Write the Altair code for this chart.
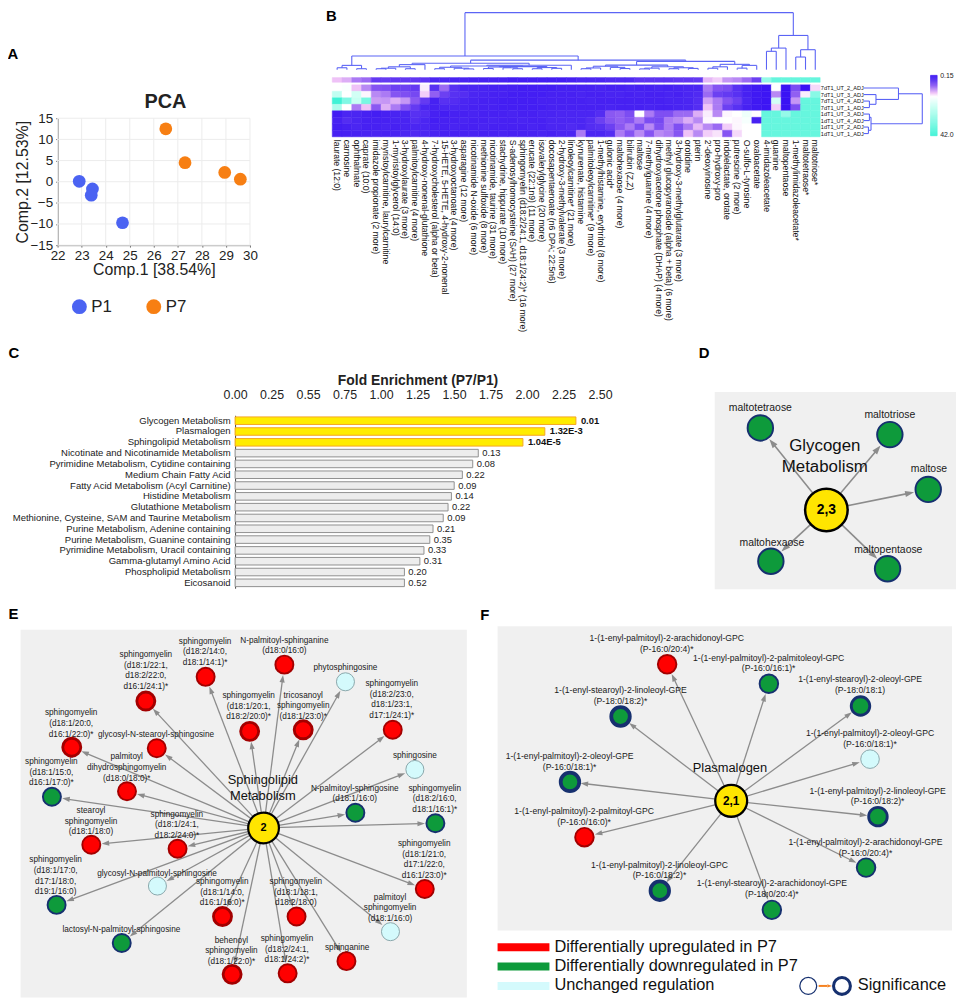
import math
import altair as alt
import pandas as pd

W, H = 956, 990
FONT = "Liberation Sans"

# ======================= DATA =======================
# ---- A: PCA scores ----
pca_group = ["P1", "P1", "P1", "P1", "P7", "P7", "P7", "P7"]
pca_comp1 = [22.9, 23.45, 23.4, 24.7, 26.5, 27.3, 28.95, 29.6]
pca_comp2 = [0.1, -1.7, -3.2, -9.7, 12.5, 4.5, 2.2, 0.6]
pca_xticks = [22, 23, 24, 25, 26, 27, 28, 29, 30]
pca_yticks = [-15, -10, -5, 0, 5, 10, 15]

# ---- B: heatmap ----
metabolites = [
    "laurate (12:0)", "carnosine", "ophthalmate", "caprate (10:0)",
    "imidazole propionate (2 more)", "myristoylcarnitine, laurylcarnitine",
    "1-myristoylglycerol (14:0)", "3-hydroxylaurate (3 more)",
    "palmitoylcarnitine (4 more)", "4-hydroxy-nonenal-glutathione",
    "7-hydroxycholesterol (alpha or beta)", "15-HETE, 5-HETE, 4-hydroxy-2-nonenal",
    "3-hydroxyoctanoate (4 more)", "asparagine (12 more)",
    "nicotinamide N-oxide (6 more)", "methionine sulfoxide (8 more)",
    "nicotinamide, taurine (31 more)", "stachydrine, hippurate (10 more)",
    "S-adenosylhomocysteine (SAH) (27 more)",
    "sphingomyelin (d18:2/24:1, d18:1/24:2)* (16 more)",
    "erucate (22:1n9) (11 more)", "isovalerylglycine (20 more)",
    "docosapentaenoate (n6 DPA; 22:5n6)", "2-hydroxy-3-methylvalerate (3 more)",
    "linoleoylcarnitine* (21 more)", "kynurenate, histamine",
    "palmitoleoylcarnitine* (9 more)", "1-methylhistamine, erythritol (8 more)",
    "gulonic acid*", "maltohexaose (4 more)", "bilirubin (Z,Z)", "maltose",
    "7-methylguanine (4 more)", "dihydroxyacetone phosphate (DHAP) (4 more)",
    "methyl glucopyranoside (alpha + beta) (6 more)",
    "3-hydroxy-3-methylglutarate (3 more)", "orotidine", "pterin",
    "2'-deoxyinosine", "pro-hydroxy-pro", "indolelactate, orotate",
    "putrescine (2 more)", "O-sulfo-L-tyrosine", "oxaloacetate",
    "4-imidazoleacetate", "guanine", "maltopentaose",
    "1-methylimidazoleacetate*", "maltotetraose*", "maltotriose*",
]
samples = ["7dT1_UT_2_ADJ", "7dT1_UT_3_ADJ", "7dT1_UT_4_ADJ", "7dT1_UT_1_ADJ",
           "1dT1_UT_3_ADJ", "1dT1_UT_4_ADJ", "1dT1_UT_2_ADJ", "1dT1_UT_1_ADJ"]
hm_annotation = [0.8, 0.7, 0.5, 0.45, 0.28, 0.28, 0.27, 0.27, 0.27, 0.26,
                 0.22, 0.22, 0.21, 0.21, 0.2, 0.2, 0.2, 0.2, 0.19, 0.19,
                 0.19, 0.19, 0.19, 0.19, 0.2, 0.22, 0.22, 0.22, 0.23, 0.23,
                 0.23, 0.26, 0.26, 0.26, 0.26, 0.27, 0.27, 0.28, 0.75, 0.85,
                 0.6, 0.55, 0.45, 0.3, 8, 20, 20, 20, 20, 20]
hm_7d_2 = [1.1, 1.2, 0.8, 0.55, 0.38, 0.36, 0.3, 0.3, 0.28, 1.0,
           0.25, 0.45, 0.25, 0.22, 0.22, 0.21, 0.2, 0.2, 0.2, 0.19,
           0.19, 0.19, 0.19, 0.2, 0.2, 0.2, 0.2, 0.21, 0.2, 0.2,
           0.21, 0.2, 0.2, 0.21, 0.2, 0.21, 0.22, 0.22, 0.5, 0.38,
           0.35, 0.25, 0.2, 0.17, 0.16, 1.1, 0.15, 0.35, 0.15, 0.9]
hm_7d_3 = [3.5, 1.1, 2.5, 1.05, 0.55, 0.5, 0.38, 0.36, 0.33, 0.85,
           0.42, 0.3, 0.25, 0.24, 0.22, 0.21, 0.2, 0.2, 0.19, 0.19,
           0.19, 0.19, 0.2, 0.2, 0.2, 0.21, 0.2, 0.2, 0.21, 0.21,
           0.2, 0.21, 0.2, 0.2, 0.21, 0.2, 0.22, 0.23, 0.45, 0.3,
           0.28, 0.25, 0.2, 0.17, 0.16, 0.55, 0.15, 0.42, 1.0, 10]
hm_7d_4 = [42, 12, 3, 14, 0.62, 0.6, 0.7, 0.6, 0.4, 0.28,
           0.2, 0.25, 0.24, 0.22, 0.21, 0.2, 0.2, 0.19, 0.19, 0.19,
           0.19, 0.2, 0.2, 0.2, 0.2, 0.2, 0.21, 0.2, 0.2, 0.2,
           0.2, 0.2, 0.2, 0.2, 0.21, 0.21, 0.22, 0.24, 0.65, 0.5,
           0.38, 0.3, 0.22, 0.17, 0.16, 2.5, 0.15, 0.6, 20, 20]
hm_7d_1 = [5, 1.1, 0.5, 0.8, 0.4, 0.7, 0.5, 0.36, 0.28, 0.22,
           0.2, 0.22, 0.22, 0.21, 0.2, 0.2, 0.2, 0.19, 0.19, 0.19,
           0.19, 0.19, 0.2, 0.2, 0.2, 0.2, 0.2, 0.2, 0.21, 0.2,
           0.2, 0.2, 0.21, 0.2, 0.2, 0.21, 0.22, 0.24, 0.8, 0.5,
           0.3, 0.25, 0.2, 0.17, 0.16, 0.85, 0.15, 0.35, 20, 20]
hm_1d_3 = [0.18, 0.22, 0.22, 0.2, 0.19, 0.2, 0.21, 0.22, 0.25, 0.24,
           0.2, 0.19, 0.2, 0.2, 0.21, 0.2, 0.2, 0.2, 0.21, 0.2,
           0.2, 0.21, 0.21, 0.22, 0.22, 0.22, 0.22, 0.24, 0.4, 0.42,
           0.35, 1.1, 0.5, 0.36, 0.36, 0.45, 0.45, 0.7, 1.0, 0.55,
           1.05, 1.1, 1.5, 1.1, 20, 20, 8, 20, 20, 20]
hm_1d_4 = [0.2, 0.24, 0.22, 0.2, 0.2, 0.2, 0.21, 0.21, 0.24, 0.22,
           0.19, 0.2, 0.2, 0.21, 0.2, 0.2, 0.21, 0.2, 0.2, 0.21,
           0.2, 0.2, 0.22, 0.22, 0.22, 0.22, 0.24, 0.3, 0.38, 0.42,
           0.38, 0.5, 0.35, 0.33, 0.5, 0.55, 0.7, 0.55, 1.05, 1.1,
           1.1, 1.05, 1.3, 0.2, 20, 20, 20, 20, 20, 20]
hm_1d_2 = [0.19, 0.2, 0.22, 0.2, 0.2, 0.21, 0.2, 0.21, 0.22, 0.22,
           0.2, 0.2, 0.21, 0.2, 0.2, 0.21, 0.2, 0.2, 0.2, 0.2,
           0.21, 0.2, 0.22, 0.22, 0.23, 0.22, 0.24, 0.25, 0.3, 0.4,
           0.5, 0.35, 0.55, 0.36, 0.5, 0.36, 0.5, 0.75, 0.55, 0.45,
           0.85, 1.05, 1.1, 1.1, 20, 20, 20, 20, 20, 20]
hm_1d_1 = [0.2, 0.2, 0.2, 0.21, 0.22, 0.2, 0.21, 0.22, 0.23, 0.22,
           0.21, 0.2, 0.2, 0.2, 0.21, 0.2, 0.2, 0.21, 0.2, 0.2,
           0.2, 0.21, 0.2, 0.22, 0.22, 0.5, 0.22, 0.22, 0.24, 0.5,
           0.38, 0.55, 0.38, 0.55, 0.5, 0.38, 0.8, 0.55, 0.85, 0.95,
           0.38, 0.9, 1.1, 1.1, 20, 20, 20, 20, 20, 20]
hm_rows = [hm_7d_2, hm_7d_3, hm_7d_4, hm_7d_1, hm_1d_3, hm_1d_4, hm_1d_2, hm_1d_1]

# dendrograms: (merge height, left, right); ints are leaf indices
col_tree = (60,
            (14.3,
             (4.5, (2, 0, 1), (1, 2, 3)),
             (10,
              (6.7,
               (5.3, (3, (1.5, (1, 4, 5), 6), (1, 7, 8)), 9),
               (4.6, (3.8, (2.5, (1, 10, 11), (1.5, 12, (0.8, 13, 14))),
                      (3.2, (2.8, (1.2, 15, 16), (2, 17, (1, 18, 19))),
                       (2.2, (1, 20, 21), (1.4, 22, 23)))), 24)),
              (8.7,
               (4.8, (3.6, (1.8, (1, 25, 26), 27), (2.4, 28, (1.2, 29, 30))),
                (3.0, (1.6, (0.8, 31, 32), 33), (2, (1, 34, 35), (1.3, 36, 37)))),
               (5.6, (3, (1.5, 38, 39), 40), (4.5, (1.6, 41, 42), 43))))),
            (36, (22.7, (19.3, 44, 45), 46), (21, (13.3, 47, 48), 49)))
row_tree = (59, (35, 0, (12.3, 1, (5.7, 2, 3))), (7.3, (5.7, 4, 5), (4.7, 6, 7)))

# ---- C: enrichment ----
pathways = ["Glycogen Metabolism", "Plasmalogen", "Sphingolipid Metabolism",
            "Nicotinate and Nicotinamide Metabolism",
            "Pyrimidine Metabolism, Cytidine containing", "Medium Chain Fatty Acid",
            "Fatty Acid Metabolism (Acyl Carnitine)", "Histidine Metabolism",
            "Glutathione Metabolism",
            "Methionine, Cysteine, SAM and Taurine Metabolism",
            "Purine Metabolism, Adenine containing",
            "Purine Metabolism, Guanine containing",
            "Pyrimidine Metabolism, Uracil containing", "Gamma-glutamyl Amino Acid",
            "Phospholipid Metabolism", "Eicosanoid"]
fold_enrichment = [2.335, 2.122, 1.972, 1.666, 1.628, 1.557, 1.501, 1.482, 1.459,
                   1.426, 1.356, 1.334, 1.294, 1.266, 1.160, 1.160]
p_values = ["0.01", "1.32E-3", "1.04E-5", "0.13", "0.08", "0.22", "0.09", "0.14",
            "0.22", "0.09", "0.21", "0.35", "0.33", "0.31", "0.20", "0.52"]
significant = [True, True, True] + [False] * 13
fold_ticks = [0, 0.25, 0.5, 0.75, 1.0, 1.25, 1.5, 1.75, 2.0, 2.25, 2.5]

# ---- D/E/F: networks ----
glyco_nodes = ["maltotetraose", "maltotriose", "maltose", "maltohexaose", "maltopentaose"]
glyco_status = ["down"] * 5
glyco_sig = [1] * 5

sphingo_nodes = [
    "sphingomyelin\n(d18:2/14:0,\nd18:1/14:1)*", "N-palmitoyl-sphinganine\n(d18:0/16:0)",
    "phytosphingosine", "sphingomyelin\n(d18:1/22:1,\nd18:2/22:0,\nd16:1/24:1)*",
    "sphingomyelin\n(d18:1/20:1,\nd18:2/20:0)*", "tricosanoyl\nsphingomyelin\n(d18:1/23:0)*",
    "sphingomyelin\n(d18:2/23:0,\nd18:1/23:1,\nd17:1/24:1)*",
    "sphingomyelin\n(d18:1/20:0,\nd16:1/22:0)*", "glycosyl-N-stearoyl-sphingosine",
    "palmitoyl\ndihydrosphingomyelin\n(d18:0/18:0)*", "sphingomyelin\n(d18:1/15:0,\nd16:1/17:0)*",
    "sphingosine", "N-palmitoyl-sphingosine\n(d18:1/16:0)",
    "sphingomyelin\n(d18:2/16:0,\nd18:1/16:1)*", "stearoyl\nsphingomyelin\n(d18:1/18:0)",
    "sphingomyelin\n(d18:1/24:1,\nd18:2/24:0)*",
    "sphingomyelin\n(d18:1/21:0,\nd17:1/22:0,\nd16:1/23:0)*",
    "sphingomyelin\n(d18:1/17:0,\nd17:1/18:0,\nd19:1/16:0)",
    "glycosyl-N-palmitoyl-sphingosine", "sphingomyelin\n(d18:1/14:0,\nd16:1/16:0)*",
    "sphingomyelin\n(d18:1/18:1,\nd18:2/18:0)", "palmitoyl\nsphingomyelin\n(d18:1/16:0)",
    "lactosyl-N-palmitoyl-sphingosine", "behenoyl\nsphingomyelin\n(d18:1/22:0)*",
    "sphingomyelin\n(d18:2/24:1,\nd18:1/24:2)*", "sphinganine"]
sphingo_status = ["up", "up", "unchanged", "up", "up", "up", "up", "up", "up", "up",
                  "down", "unchanged", "down", "down", "up", "up", "up", "down",
                  "unchanged", "up", "up", "unchanged", "down", "up", "up", "up"]
sphingo_sig = [1, 1, 0, 2, 2, 2, 1, 2, 1, 1, 1, 0, 1, 1, 1, 1, 1, 1, 0, 2, 1, 0, 1, 2, 1, 1]

plasm_nodes = [
    "1-(1-enyl-palmitoyl)-2-arachidonoyl-GPC\n(P-16:0/20:4)*",
    "1-(1-enyl-palmitoyl)-2-palmitoleoyl-GPC\n(P-16:0/16:1)*",
    "1-(1-enyl-stearoyl)-2-oleoyl-GPE\n(P-18:0/18:1)",
    "1-(1-enyl-stearoyl)-2-linoleoyl-GPE\n(P-18:0/18:2)*",
    "1-(1-enyl-palmitoyl)-2-oleoyl-GPC\n(P-16:0/18:1)*",
    "1-(1-enyl-palmitoyl)-2-oleoyl-GPE\n(P-16:0/18:1)*",
    "1-(1-enyl-palmitoyl)-2-linoleoyl-GPE\n(P-16:0/18:2)*",
    "1-(1-enyl-palmitoyl)-2-palmitoyl-GPC\n(P-16:0/16:0)*",
    "1-(1-enyl-palmitoyl)-2-arachidonoyl-GPE\n(P-16:0/20:4)*",
    "1-(1-enyl-palmitoyl)-2-linoleoyl-GPC\n(P-16:0/18:2)*",
    "1-(1-enyl-stearoyl)-2-arachidonoyl-GPE\n(P-18:0/20:4)*"]
plasm_status = ["up", "down", "down", "down", "unchanged", "down", "down", "up",
                "down", "down", "down"]
plasm_sig = [1, 1, 2, 3, 0, 3, 2, 1, 1, 3, 1]

legend_labels = ["Differentially upregulated in P7", "Differentially downregulated in P7",
                 "Unchanged regulation"]
legend_status = ["up", "down", "unchanged"]

# ======================= LAYOUT (figure pixel units) =======================
glyco_hub = (833.3, 510)
glyco_xy = [(766.7, 427.3), (897.3, 434), (936, 489.3), (777.3, 561.7), (895, 569.3)]
glyco_lab = [(766.7, 407.3), (897.3, 414), (936.7, 468.3), (778.3, 543.3), (895.7, 550)]
sph_hub = (265.7, 830.7)
sph_xy = [(207.3, 678.3), (286.7, 666), (348.3, 683.3), (147, 702.7), (251.7, 733.3),
          (305.7, 731.7), (396, 731.7), (72.3, 749.3), (158, 750.3), (128, 793.7),
          (52.3, 799.3), (418.3, 771.7), (358.3, 815.3), (439, 826), (92, 847.7),
          (179, 851.7), (428.3, 892.3), (57, 908.3), (158.7, 889.3), (224.3, 920),
          (299, 920), (393.7, 935.3), (122.7, 946.7), (234, 978.3), (290, 977.3),
          (349.3, 965)]
sph_lab = [(206.7, 641.7), (286.7, 640.7), (348.3, 668.7), (147, 655.3), (250.7, 696.7),
           (305.7, 696), (395, 684.3), (71.7, 714), (157.3, 735.3), (127.7, 758.3),
           (51.7, 763.3), (418.3, 756.7), (357.7, 790), (438.3, 790), (91.7, 812.7),
           (178.3, 816.3), (427.7, 845.7), (56, 862.3), (158.3, 875.7), (224, 884),
           (298.3, 884), (393.3, 900), (122.3, 932.3), (233.3, 943.3), (289.3, 941.7),
           (350, 950.7)]
pl_hub = (737.3, 803.3)
pl_xy = [(672.7, 665.7), (775.3, 685.3), (867.7, 707.7), (625.7, 718.3), (877.3, 761.3),
         (574.7, 784.3), (885.3, 819.3), (589.3, 840), (873.3, 870.7), (665.3, 894),
         (778.3, 913.3)]
pl_lab = [(672.3, 639.3), (775, 659), (867.3, 681), (625.7, 691.7), (877.3, 735),
          (574.3, 758.3), (885, 793.3), (589, 814), (872.7, 845), (665, 867.7),
          (778.3, 886.7)]
legend_y0 = [947.0, 966.5, 986.0]
legend_y1 = [955.0, 974.5, 994.0]
legend_ty = [950.6, 970.1, 989.6]

# ======================= SCALES =======================
def CXs():
    return alt.Scale(domain=[0, 964], range=[-8, W], nice=False, zero=False)

def CYs():
    return alt.Scale(domain=[0, 1006], range=[-8, 998], nice=False, zero=False)

def cx(f):
    return alt.X(f, type="quantitative", scale=CXs(), axis=None)

def cy(f):
    return alt.Y(f, type="quantitative", scale=CYs(), axis=None)

STATUS = ["up", "down", "unchanged"]
def FILLs():
    return alt.Scale(domain=STATUS, range=["#ff0000", "#0e9a3b", "#d4fafc"])
def STROKEs():
    return alt.Scale(domain=STATUS, range=["#a30000", "#16306f", "#8aa7ab"])
def SWs():
    return alt.Scale(domain=[0, 3], range=[1.0, 3.8])

def HCs():
    return alt.Scale(type="log", domain=[0.15, 0.22, 0.4, 0.8, 1.1, 3, 42],
                     range=["#3a12f4", "#4b26f2", "#8a58f2", "#efc2f7", "#ffffff",
                            "#c8fff3", "#3ff2d6"], interpolate="rgb")

# ======================= PANEL A =======================
PX = lambda: alt.Scale(domain=[22, 30], range=[50, 244], nice=False, zero=False)
PY = lambda: alt.Scale(domain=[-15, 15], range=[235, 107], nice=False, zero=False)
vgrid = pd.DataFrame({"x": pca_xticks, "y0": -15, "y1": 15})
hgrid = pd.DataFrame({"y": pca_yticks, "x0": 22, "x1": 30})
pca_df = pd.DataFrame({"group": pca_group, "c1": pca_comp1, "c2": pca_comp2})
pca_g1 = alt.Chart(vgrid).mark_rule(color="#ececec", strokeWidth=1).encode(
    x=alt.X("x:Q", scale=PX(), axis=None), y=alt.Y("y0:Q", scale=PY(), axis=None), y2="y1:Q")
pca_g2 = alt.Chart(hgrid).mark_rule(color="#ececec", strokeWidth=1).encode(
    y=alt.Y("y:Q", scale=PY(), axis=None), x=alt.X("x0:Q", scale=PX(), axis=None), x2="x1:Q")
pca_grid = alt.layer(pca_g1, pca_g2)
pca_pts = alt.Chart(pca_df).mark_circle(size=165, opacity=1).encode(
    x=alt.X("c1:Q", scale=PX(), axis=alt.Axis(
        orient="bottom", offset=235 - H, values=pca_xticks, title="Comp.1 [38.54%]",
        titleFontSize=16, titleFontWeight="normal", titleColor="#222", labelFontSize=13.5,
        labelColor="#222", tickSize=2, tickColor="#777", domainColor="#777", grid=False,
        labelPadding=1, titlePadding=0, labelFlush=False, labelOverlap=False)),
    y=alt.Y("c2:Q", scale=PY(), axis=alt.Axis(
        orient="left", offset=-50, values=pca_yticks, title="Comp.2 [12.53%]",
        titleFontSize=16, titleFontWeight="normal", titleColor="#222", labelFontSize=13.5,
        labelColor="#222", tickSize=2, tickColor="#777", domainColor="#777", grid=False,
        labelPadding=3, titlePadding=-1, labelFlush=False, labelOverlap=False)),
    color=alt.Color("group:N", scale=alt.Scale(domain=["P1", "P7"], range=["#4b63f2", "#f77f13"]),
                    legend=None))

# ======================= PANEL B =======================
HX = lambda: alt.Scale(domain=[0, 50], range=[327, 819], nice=False, zero=False)
HY = lambda: alt.Scale(domain=[0, 8], range=[73.3, 125.7], nice=False, zero=False)
cells = []
for r, row in enumerate(hm_rows):
    for c, v in enumerate(row):
        cells.append({"c0": c, "c1": c + 1, "r0": r, "r1": r + 1, "v": v})
for c, v in enumerate(hm_annotation):
    cells.append({"c0": c, "c1": c + 1, "r0": -1.115, "r1": -0.397, "v": v})
cells_df = pd.DataFrame(cells)
hm_rect = alt.Chart(cells_df).mark_rect(strokeWidth=0.5).encode(
    x=alt.X("c0:Q", scale=HX(), axis=None), x2="c1:Q",
    y=alt.Y("r0:Q", scale=HY(), axis=None), y2="r1:Q",
    color=alt.Color("v:Q", scale=HCs(), legend=None),
    stroke=alt.Stroke("v:Q", scale=HCs(), legend=None))
col_lab_df = pd.DataFrame({"x": [i + 0.5 for i in range(len(metabolites))],
                           "y": 8.46, "text": metabolites})
hm_collab = alt.Chart(col_lab_df).mark_text(angle=90, align="left", baseline="middle",
                                            fontSize=8.7, color="#111").encode(
    x=alt.X("x:Q", scale=HX(), axis=None), y=alt.Y("y:Q", scale=HY(), axis=None), text="text:N")
row_lab_df = pd.DataFrame({"x": 50.07, "y": [i + 0.5 for i in range(8)], "text": samples})
hm_rowlab = alt.Chart(row_lab_df).mark_text(align="left", baseline="middle", fontSize=5.6,
                                            color="#111").encode(
    x=alt.X("x:Q", scale=HX(), axis=None), y=alt.Y("y:Q", scale=HY(), axis=None), text="text:N")
panel_b = alt.layer(hm_rect, hm_collab, hm_rowlab)


def dendro(tree):
    segs = []

    def walk(node):
        if isinstance(node, int):
            return node + 0.5, 0.0
        h, a, b = node
        pa, ha = walk(a)
        pb, hb = walk(b)
        segs.append({"p": pa, "p2": pa, "h": ha, "h2": h})
        segs.append({"p": pb, "p2": pb, "h": hb, "h2": h})
        segs.append({"p": pa, "p2": pb, "h": h, "h2": h})
        return (pa + pb) / 2, h

    walk(tree)
    return pd.DataFrame(segs)


DEND_COLOR = "#5b64f5"
col_dend = alt.Chart(dendro(col_tree)).mark_rule(color=DEND_COLOR, strokeWidth=1.1).encode(
    x=alt.X("p:Q", scale=HX(), axis=None), x2="p2:Q",
    y=alt.Y("h:Q", scale=alt.Scale(domain=[0, 60], range=[58, 0.5], nice=False, zero=False),
            axis=None), y2="h2:Q")
row_dend = alt.Chart(dendro(row_tree)).mark_rule(color=DEND_COLOR, strokeWidth=1.1).encode(
    y=alt.Y("p:Q", scale=HY(), axis=None), y2="p2:Q",
    x=alt.X("h:Q", scale=alt.Scale(domain=[0, 61], range=[863, 924], nice=False, zero=False),
            axis=None), x2="h2:Q")

# colour bar (legend of the heatmap colour scale)
NSTEP = 60
cbar_df = pd.DataFrame({"k0": list(range(NSTEP)), "k1": [k + 1 for k in range(NSTEP)],
                        "v": [0.15 * (42 / 0.15) ** ((k + 0.5) / NSTEP) for k in range(NSTEP)],
                        "x0": 0, "x1": 1})
CBX = lambda: alt.Scale(domain=[0, 1], range=[930.3, 937], nice=False, zero=False)
CBY = lambda: alt.Scale(domain=[0, NSTEP], range=[63.7, 124.7], nice=False, zero=False)
cbar = alt.Chart(cbar_df).mark_rect(strokeWidth=0.5).encode(
    x=alt.X("x0:Q", scale=CBX(), axis=None), x2="x1:Q",
    y=alt.Y("k0:Q", scale=CBY(), axis=None), y2="k1:Q",
    color=alt.Color("v:Q", scale=HCs(), legend=None),
    stroke=alt.Stroke("v:Q", scale=HCs(), legend=None))
cbar_lab = alt.Chart(pd.DataFrame({"x": [1, 1], "y": [1.0, NSTEP - 0.5],
                                   "text": ["0.15", "42.0"]})).mark_text(
    align="left", baseline="middle", fontSize=7, dx=3, color="#222").encode(
    x=alt.X("x:Q", scale=CBX(), axis=None), y=alt.Y("y:Q", scale=CBY(), axis=None), text="text:N")
panel_cbar = alt.layer(cbar, cbar_lab)

# ======================= PANEL C =======================
bar_df = pd.DataFrame({"pathway": pathways, "fold": fold_enrichment, "p": p_values,
                       "grp": ["sig" if s else "ns" for s in significant]})
BX = lambda: alt.Scale(domain=[0, 2.5], range=[229, 597], nice=False, zero=False)
BY = lambda: alt.Scale(domain=pathways, range=[406.55, 580.95], paddingInner=0.3,
                       paddingOuter=0.15)
bars = alt.Chart(bar_df).mark_bar(strokeWidth=1).encode(
    x=alt.X("fold:Q", scale=BX(), axis=alt.Axis(
        orient="top", offset=-394, values=fold_ticks,
        labelExpr="datum.value == 0.5 ? '0.55' : format(datum.value, '.2f')",
        labelFontSize=12.5, labelColor="#222", ticks=False, domain=False, grid=False,
        labelPadding=1, title="Fold Enrichment (P7/P1)", titleFontSize=14,
        titleFontWeight="bold", titleColor="#222", titlePadding=1, labelFlush=False,
        labelOverlap=False)),
    y=alt.Y("pathway:N", scale=BY(), axis=alt.Axis(
        orient="left", offset=-229, title=None, ticks=False, labelFontSize=9.6,
        labelColor="#1a1a1a", labelPadding=5, labelLimit=400, domainColor="#444",
        grid=False)),
    fill=alt.Fill("grp:N", scale=alt.Scale(domain=["sig", "ns"], range=["#ffec00", "#ededed"]),
                  legend=None),
    stroke=alt.Stroke("grp:N", scale=alt.Scale(domain=["sig", "ns"], range=["#f5a623", "#8f8f8f"]),
                      legend=None))
bar_lab_sig = alt.Chart(bar_df).transform_filter("datum.grp == 'sig'").mark_text(
    align="left", baseline="middle", dx=5, fontSize=9.5, fontWeight="bold", color="#111").encode(
    x=alt.X("fold:Q", scale=BX(), axis=None), y=alt.Y("pathway:N", scale=BY(), axis=None),
    text="p:N")
bar_lab_ns = alt.Chart(bar_df).transform_filter("datum.grp == 'ns'").mark_text(
    align="left", baseline="middle", dx=4, fontSize=9.5, color="#222").encode(
    x=alt.X("fold:Q", scale=BX(), axis=None), y=alt.Y("pathway:N", scale=BY(), axis=None),
    text="p:N")
bar_labels = alt.layer(bar_lab_sig, bar_lab_ns)

# ======================= CANVAS (networks, legends, letters) =======================
ARROW = "M0,-1L0.55,0.6L-0.55,0.6Z"
EDGE = "#8c8c8c"


def text_chart(rows, **kw):
    return alt.Chart(pd.DataFrame(rows)).mark_text(**kw).encode(
        x=cx("x"), y=cy("y"), text="text:N")


def network(box, hub, nxy, names, status, sig, lxy, r_out, nsize, hsize, hub_sw, fs, lh,
            asize, hub_txt, hub_fs, title, txy, tfs, tlh, edge_w):
    layers = []
    layers.append(alt.Chart(pd.DataFrame([box])).mark_rect(color="#f0f0f0").encode(
        x=cx("x0"), x2="x1:Q", y=cy("y0"), y2="y1:Q"))
    hx, hy = hub
    R = math.sqrt(asize) / 2
    erows = []
    for (x, y) in nxy:
        dx, dy = x - hx, y - hy
        d = math.hypot(dx, dy)
        ux, uy = dx / d, dy / d
        tx, ty = x - ux * (r_out + 0.5), y - uy * (r_out + 0.5)
        ax, ay = tx - ux * R, ty - uy * R
        erows.append({"x": hx, "y": hy, "x2": ax, "y2": ay,
                      "ang": math.degrees(math.atan2(ux, -uy)) % 360})
    edf = pd.DataFrame(erows)
    layers.append(alt.Chart(edf).mark_rule(color=EDGE, strokeWidth=edge_w).encode(
        x=cx("x"), y=cy("y"), x2="x2:Q", y2="y2:Q"))
    layers.append(alt.Chart(edf).mark_point(shape=ARROW, filled=True, size=asize, opacity=1,
                                            color=EDGE, strokeWidth=0).encode(
        x=cx("x2"), y=cy("y2"), angle=alt.Angle("ang:Q", scale=None)))
    multi = any("\n" in n for n in names)
    lab_rows = [{"x": p[0], "y": p[1], "text": n} for p, n in zip(lxy, names)]
    if multi:
        layers.append(text_chart(lab_rows, fontSize=fs, lineHeight=lh, baseline="top",
                                 dy=-0.46 * fs, align="center", lineBreak="\n", color="#1a1a1a"))
    else:
        layers.append(text_chart(lab_rows, fontSize=fs, baseline="middle", align="center",
                                 color="#1a1a1a"))
    ndf = pd.DataFrame({"x": [p[0] for p in nxy], "y": [p[1] for p in nxy],
                        "status": status, "sig": sig})
    layers.append(alt.Chart(ndf).mark_circle(size=nsize, opacity=1).encode(
        x=cx("x"), y=cy("y"),
        fill=alt.Fill("status:N", scale=FILLs(), legend=None),
        stroke=alt.Stroke("status:N", scale=STROKEs(), legend=None),
        strokeWidth=alt.StrokeWidth("sig:Q", scale=SWs(), legend=None)))
    layers.append(alt.Chart(pd.DataFrame([{"x": hx, "y": hy}])).mark_circle(
        size=hsize, opacity=1, fill="#ffe500", stroke="#000000", strokeWidth=hub_sw).encode(
        x=cx("x"), y=cy("y")))
    layers.append(text_chart([{"x": hx, "y": hy, "text": hub_txt}], fontSize=hub_fs,
                             fontWeight="bold", baseline="middle", align="center", color="#000"))
    layers.append(text_chart([{"x": txy[0], "y": txy[1], "text": title}], fontSize=tfs,
                             lineHeight=tlh, baseline="top", dy=-0.46 * tfs, align="center",
                             lineBreak="\n", color="#111"))
    return layers


canvas_layers = []
canvas_layers += network({"x0": 720.7, "x1": 964, "y0": 391, "y1": 590}, glyco_hub, glyco_xy,
                         glyco_nodes, glyco_status, glyco_sig, glyco_lab, 14, 660, 1840, 2.5,
                         10.5, 12, 130, "2,3", 14, "Glycogen\nMetabolism", (831.7, 445), 17,
                         21.7, 1.6)
canvas_layers += network({"x0": 20.7, "x1": 470.7, "y0": 630.7, "y1": 1001.7}, sph_hub, sph_xy,
                         sphingo_nodes, sphingo_status, sphingo_sig, sph_lab, 10, 330, 961, 2.2,
                         8.3, 10.7, 90, "2", 11, "Sphingolipid\nMetabolism", (265, 782.3), 13,
                         16.7, 1.3)
canvas_layers += network({"x0": 501.7, "x1": 960, "y0": 627.3, "y1": 934}, pl_hub, pl_xy,
                         plasm_nodes, plasm_status, plasm_sig, pl_lab, 10.3, 350, 1037, 2.3,
                         8.7, 10.7, 90, "2,1", 12, "Plasmalogen", (736, 770.7), 13, 16, 1.3)

# bottom legend
leg_df = pd.DataFrame({"status": legend_status, "text": legend_labels,
                       "x0": 501.7, "x1": 554, "y0": legend_y0, "y1": legend_y1,
                       "ty": legend_ty, "tx": 559})
canvas_layers.append(alt.Chart(leg_df).mark_rect().encode(
    x=cx("x0"), x2="x1:Q", y=cy("y0"), y2="y1:Q",
    fill=alt.Fill("status:N", scale=FILLs(), legend=None)))
canvas_layers.append(alt.Chart(leg_df).mark_text(align="left", baseline="middle", fontSize=16.5,
                                                 color="#111").encode(
    x=cx("tx"), y=cy("ty"), text="text:N"))
sig_df = pd.DataFrame({"x": [815, 849], "y": [990.0, 990.0], "sig": [0.3, 2.2]})
canvas_layers.append(alt.Chart(sig_df).mark_circle(size=290, opacity=1, fill="#ffffff",
                                                   stroke="#16306f").encode(
    x=cx("x"), y=cy("y"), strokeWidth=alt.StrokeWidth("sig:Q", scale=SWs(), legend=None)))
canvas_layers.append(alt.Chart(pd.DataFrame([{"x": 825.5, "x2": 834, "y": 990.0}])).mark_rule(
    color="#f58220", strokeWidth=2).encode(x=cx("x"), x2="x2:Q", y=cy("y")))
canvas_layers.append(alt.Chart(pd.DataFrame([{"x": 836, "y": 990.0, "ang": 90}])).mark_point(
    shape=ARROW, filled=True, size=36, opacity=1, color="#f58220", strokeWidth=0).encode(
    x=cx("x"), y=cy("y"), angle=alt.Angle("ang:Q", scale=None)))
canvas_layers.append(text_chart([{"x": 865, "y": 989.6, "text": "Significance"}], fontSize=16.5,
                                align="left", baseline="middle", color="#111"))

# PCA title + legend
canvas_layers.append(text_chart([{"x": 166.7, "y": 98.3, "text": "PCA"}], fontSize=20,
                                fontWeight="bold", align="center", baseline="middle",
                                color="#222"))
canvas_layers.append(alt.Chart(pd.DataFrame([{"x": 80, "y": 305}])).mark_circle(
    size=225, opacity=1, color="#4b63f2").encode(x=cx("x"), y=cy("y")))
canvas_layers.append(alt.Chart(pd.DataFrame([{"x": 155, "y": 305}])).mark_circle(
    size=225, opacity=1, color="#f77f13").encode(x=cx("x"), y=cy("y")))
canvas_layers.append(text_chart([{"x": 92, "y": 305, "text": "P1"},
                                 {"x": 167, "y": 305, "text": "P7"}], fontSize=17,
                                align="left", baseline="middle", color="#222"))

# panel letters
canvas_layers.append(text_chart([{"x": 13, "y": 50, "text": "A"}, {"x": 334, "y": 11.7, "text": "B"},
                                 {"x": 710, "y": 351.7, "text": "D"},
                                 {"x": 488.7, "y": 615.7, "text": "F"}],
                                fontSize=15, fontWeight="bold", align="center", baseline="middle",
                                color="#000"))
canvas_layers.append(text_chart([{"x": 8.5, "y": 351.7, "text": "C"},
                                 {"x": 8.5, "y": 615, "text": "E"}],
                                fontSize=15, fontWeight="bold", align="left", baseline="middle",
                                color="#000"))
panel_canvas = alt.layer(*canvas_layers)

chart = alt.layer(pca_grid, pca_pts, panel_b, col_dend, row_dend, panel_cbar, bars, bar_labels,
                  panel_canvas).resolve_scale(
    x="independent", y="independent", color="independent", fill="independent",
    stroke="independent", strokeWidth="independent"
).properties(
    width=W, height=H, padding=0, autosize=alt.AutoSizeParams(type="none"),
    background="white"
).configure(font=FONT).configure_view(stroke=None)

chart.save("out.html", embed_options={"renderer": "svg", "actions": False})
